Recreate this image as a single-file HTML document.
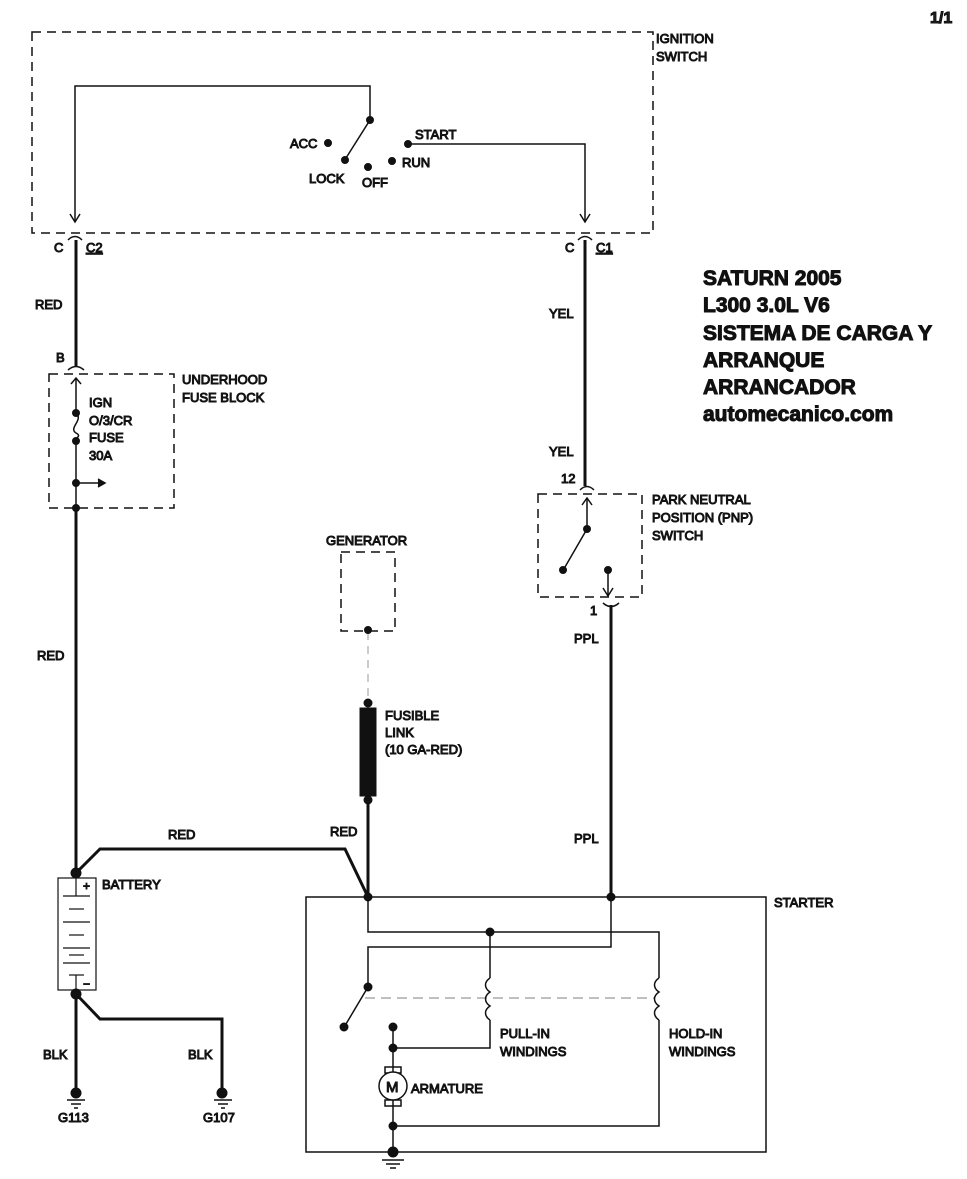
<!DOCTYPE html>
<html><head><meta charset="utf-8"><style>
html,body{margin:0;padding:0;background:#fff;}
svg{display:block;}
text{font-family:"Liberation Sans",Arial,sans-serif;font-size:13px;font-weight:400;fill:#222;}
text.b{font-weight:700;font-size:21px;fill:#111;}
</style></head><body>
<svg width="967" height="1179" viewBox="0 0 967 1179" xmlns="http://www.w3.org/2000/svg">
<g fill="none" stroke="#111">
<g stroke-width="1.5" stroke-dasharray="9,6">
<rect x="32" y="32" width="621" height="201"/>
<rect x="49" y="374" width="125" height="134"/>
<rect x="341" y="552" width="54" height="79"/>
<rect x="538" y="494" width="104" height="103"/>
</g>
<line x1="368" y1="632" x2="368" y2="700" stroke="#999" stroke-dasharray="8,6"/>
<line x1="365" y1="998" x2="655" y2="998" stroke="#999" stroke-width="1.2" stroke-dasharray="10,6"/>
<g stroke-width="1.5">
<polyline points="75,222 75,86 370,86 370,120"/>
<line x1="370" y1="120" x2="346" y2="158"/>
<polyline points="408,144 585,144 585,222"/>
<polyline points="70,214 75,222 80,214"/>
<polyline points="580,214 585,222 590,214"/>
<path d="M68,240 Q75,233 82,240 M578,240 Q585,233 592,240"/>
<path d="M68,370 Q76,363 84,370 M580,490 Q587,483 594,490 M603,603 Q611,610 619,603"/>
<polyline points="71,384 76,378 81,384"/>
<line x1="76" y1="378" x2="76" y2="413"/>
<path d="M76,413 C84,420 68,428 76,433 C84,437 70,440 76,441"/>
<line x1="76" y1="441" x2="76" y2="508"/>
<line x1="76" y1="483" x2="103" y2="483"/>
<polyline points="98,479 105,483 98,487" fill="#111"/>
<line x1="587" y1="498" x2="587" y2="529"/>
<polyline points="582,505 587,498 592,505"/>
<line x1="587" y1="529" x2="565" y2="567"/>
<line x1="608" y1="570" x2="608" y2="596"/>
<polyline points="603,588 608,596 613,588"/>
<rect x="306" y="897" width="460" height="255"/>
<polyline points="368,897 368,932 659,932 659,978"/>
<path d="M659,978 c-6,4 -6,10 0,14 c-6,4 -6,10 0,14 c-6,4 -6,10 0,14"/>
<polyline points="659,1020 659,1126 393,1126"/>
<line x1="490" y1="932" x2="490" y2="978"/>
<path d="M490,978 c-6,4 -6,10 0,14 c-6,4 -6,10 0,14 c-6,4 -6,10 0,14"/>
<polyline points="490,1020 490,1048 393,1048"/>
<polyline points="611,897 611,947 368,947 368,987"/>
<line x1="368" y1="987" x2="346" y2="1024"/>
<line x1="393" y1="1027" x2="393" y2="1072"/>
<line x1="393" y1="1100" x2="393" y2="1152"/>
<rect x="385" y="1067" width="16" height="6"/>
<rect x="385" y="1100" width="16" height="6"/>
<circle cx="393" cy="1086" r="14" fill="#fff"/>
<rect x="58" y="878" width="38" height="112" stroke-width="1.2"/>
<g stroke-width="1.2">
<line x1="76" y1="878" x2="76" y2="896"/>
<line x1="63" y1="896" x2="90" y2="896"/><line x1="69" y1="909" x2="84" y2="909"/>
<line x1="63" y1="922" x2="90" y2="922"/><line x1="69" y1="935" x2="84" y2="935"/>
<line x1="63" y1="948" x2="90" y2="948"/><line x1="69" y1="955" x2="84" y2="955"/>
<line x1="63" y1="963" x2="90" y2="963"/><line x1="69" y1="975" x2="84" y2="975"/>
<line x1="76" y1="975" x2="76" y2="990"/>
</g>
<path d="M67,1100 H85 M71,1104 H81 M74,1108 H78 M214,1100 H232 M218,1104 H228 M221,1108 H225 M382,1160 H404 M386,1164 H400 M390,1168 H396"/>
</g>
<g fill="none" stroke="#111" stroke-width="3">
<line x1="76" y1="240" x2="76" y2="366"/>
<line x1="76" y1="508" x2="76" y2="873"/>
<line x1="585" y1="240" x2="585" y2="486"/>
<line x1="611" y1="605" x2="611" y2="897"/>
<polyline points="76,873 100,849 345,849 368,897"/>
<line x1="368" y1="800" x2="368" y2="897"/>
<line x1="76" y1="994" x2="76" y2="1093"/>
<polyline points="76,994 100,1019 222,1019 222,1093"/>
</g>
<rect x="360" y="708" width="16" height="88" fill="#111"/>
<g fill="#111">
<circle cx="370" cy="120" r="3.5"/><circle cx="345" cy="160" r="3.5"/><circle cx="328" cy="143" r="3.5"/>
<circle cx="368" cy="167" r="3.5"/><circle cx="392" cy="161" r="3.5"/><circle cx="408" cy="144" r="3.5"/>
<circle cx="76" cy="413" r="3.5"/><circle cx="76" cy="441" r="3.5"/><circle cx="76" cy="483" r="3.5"/><circle cx="76" cy="508" r="3.5"/>
<circle cx="368" cy="630" r="3.5"/><circle cx="368" cy="703" r="4"/><circle cx="368" cy="800" r="4"/>
<circle cx="587" cy="529" r="3.5"/><circle cx="563" cy="570" r="3.5"/><circle cx="608" cy="570" r="3.5"/>
<circle cx="76" cy="873" r="5"/><circle cx="76" cy="994" r="5"/>
<circle cx="76" cy="1093" r="5"/><circle cx="222" cy="1093" r="5"/>
<circle cx="368" cy="897" r="4"/><circle cx="611" cy="897" r="4"/><circle cx="490" cy="932" r="4"/>
<circle cx="368" cy="987" r="4"/><circle cx="344" cy="1027" r="4"/>
<circle cx="393" cy="1027" r="4"/><circle cx="393" cy="1048" r="4"/><circle cx="393" cy="1126" r="4"/><circle cx="393" cy="1152" r="5"/>
</g>
<text x="930" y="23" style="font-weight:700;font-size:16px">1/1</text>
<text x="656" y="43">IGNITION</text><text x="656" y="61">SWITCH</text>
<text x="290" y="148">ACC</text><text x="309" y="183">LOCK</text><text x="362" y="187">OFF</text>
<text x="402" y="167">RUN</text><text x="415" y="139">START</text>
<text x="54" y="252">C</text><text x="86" y="252" text-decoration="underline">C2</text>
<text x="565" y="252">C</text><text x="596" y="252" text-decoration="underline">C1</text>
<text x="35" y="309">RED</text><text x="56" y="362">B</text>
<text x="182" y="384">UNDERHOOD</text><text x="182" y="402">FUSE BLOCK</text>
<text x="89" y="407">IGN</text><text x="89" y="425">O/3/CR</text><text x="89" y="442">FUSE</text><text x="89" y="460">30A</text>
<text x="37" y="660">RED</text>
<text x="549" y="318">YEL</text><text x="549" y="456">YEL</text><text x="561" y="483">12</text>
<text x="652" y="504">PARK NEUTRAL</text><text x="652" y="522">POSITION (PNP)</text><text x="652" y="540">SWITCH</text>
<text x="590" y="615">1</text><text x="574" y="643">PPL</text><text x="574" y="843">PPL</text>
<text x="326" y="545">GENERATOR</text>
<text x="385" y="720">FUSIBLE</text><text x="385" y="737">LINK</text><text x="385" y="754">(10 GA-RED)</text>
<text x="168" y="839">RED</text><text x="330" y="836">RED</text>
<text x="83" y="890" style="font-size:12px">+</text><text x="83" y="988" style="font-size:12px">−</text>
<text x="102" y="889">BATTERY</text>
<text x="43" y="1059">BLK</text><text x="188" y="1059">BLK</text>
<text x="58" y="1122">G113</text><text x="203" y="1122">G107</text>
<text x="774" y="907">STARTER</text>
<text x="500" y="1038">PULL-IN</text><text x="500" y="1056">WINDINGS</text>
<text x="669" y="1038">HOLD-IN</text><text x="669" y="1056">WINDINGS</text>
<text x="386" y="1092" style="font-size:15px">M</text><text x="411" y="1093">ARMATURE</text>
<text class="b" x="703" y="285">SATURN 2005</text>
<text class="b" x="703" y="312">L300  3.0L V6</text>
<text class="b" x="703" y="340">SISTEMA DE CARGA Y</text>
<text class="b" x="703" y="367">ARRANQUE</text>
<text class="b" x="703" y="394">ARRANCADOR</text>
<text class="b" x="703" y="421">automecanico.com</text>
</svg>
</body></html>
